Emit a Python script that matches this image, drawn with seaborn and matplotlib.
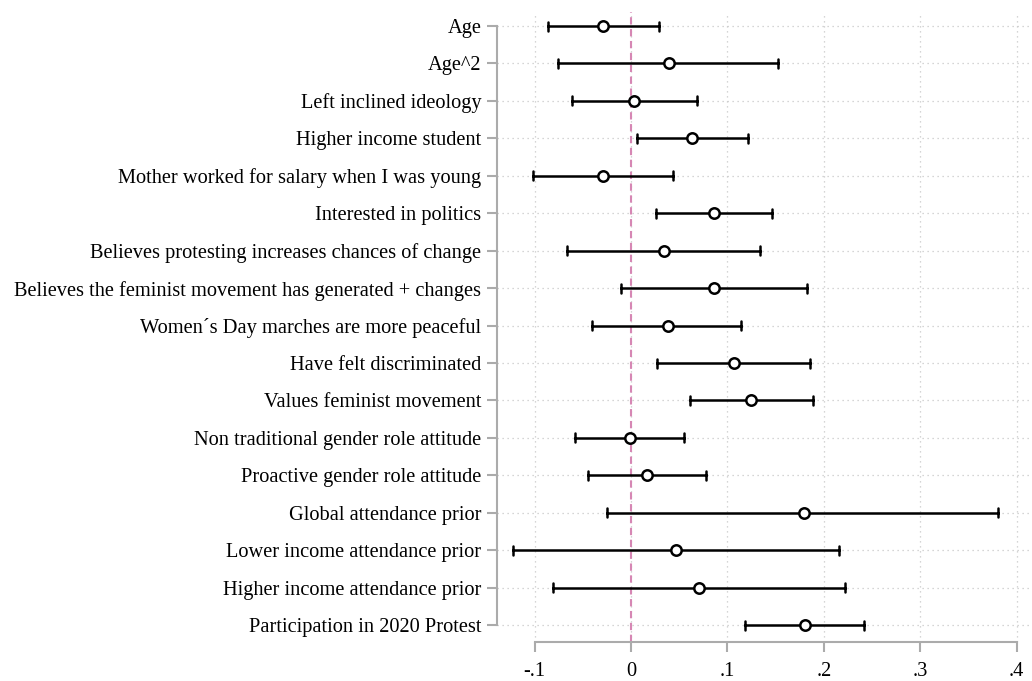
import numpy as np
import pandas as pd
import matplotlib
matplotlib.use("Agg")
import matplotlib.pyplot as plt
from matplotlib.ticker import FuncFormatter
import seaborn as sns

terms = [
    "Age",
    "Age^2",
    "Left inclined ideology",
    "Higher income student",
    "Mother worked for salary when I was young",
    "Interested in politics",
    "Believes protesting increases chances of change",
    "Believes the feminist movement has generated + changes",
    "Women\u00b4s Day marches are more peaceful",
    "Have felt discriminated",
    "Values feminist movement",
    "Non traditional gender role attitude",
    "Proactive gender role attitude",
    "Global attendance prior",
    "Lower income attendance prior",
    "Higher income attendance prior",
    "Participation in 2020 Protest",
]
coef = [-0.029, 0.039, 0.003, 0.063, -0.029, 0.086, 0.034, 0.086, 0.038,
        0.107, 0.125, -0.001, 0.017, 0.179, 0.047, 0.071, 0.180]
ci_low = [-0.086, -0.076, -0.061, 0.006, -0.102, 0.026, -0.066, -0.010, -0.040,
          0.027, 0.061, -0.058, -0.045, -0.025, -0.122, -0.081, 0.118]
ci_high = [0.029, 0.153, 0.068, 0.121, 0.044, 0.146, 0.134, 0.183, 0.114,
           0.186, 0.189, 0.055, 0.078, 0.381, 0.216, 0.222, 0.242]
xticks = [-0.1, 0, 0.1, 0.2, 0.3, 0.4]

# long form: lower bound, estimate, upper bound for each term
df = pd.DataFrame({
    "term": np.repeat(terms, 3),
    "value": np.column_stack([ci_low, coef, ci_high]).ravel(),
})

sns.set_style("white")
plt.rcParams["font.family"] = ["Liberation Serif", "DejaVu Serif"]

fig = plt.figure(figsize=(10.32, 6.81), dpi=100)
ax = fig.add_axes([0.4816, 0.0573, 0.5184, 0.925])

grid_kw = dict(color="#c8c8c8", lw=0.9, ls=(0, (1, 3)), zorder=0)
for i in range(len(terms)):
    ax.axhline(i, **grid_kw)
for t in xticks:
    ax.axvline(t, **grid_kw)
ax.axvline(0, color="#d687b4", lw=1.5, ls=(0, (3.5, 2.2)), zorder=1)

sns.pointplot(
    data=df, x="value", y="term", order=terms,
    estimator="median", errorbar=lambda v: (v.min(), v.max()),
    linestyle="none", marker="o", markersize=7.5, markeredgewidth=1.8,
    color="black", capsize=0.24, err_kws={"linewidth": 1.8},
    ax=ax, zorder=3,
)
for ln in ax.lines:
    if ln.get_marker() == "o":
        ln.set_markerfacecolor("white")
        ln.set_zorder(4)

ax.set_xlim(-0.139, 0.416)
ax.set_ylim(16.45, -0.374)
ax.set_xticks(xticks)
ax.xaxis.set_major_formatter(FuncFormatter(
    lambda v, p: "0" if abs(v) < 1e-9 else f"{v:.1f}".replace("0.", ".")))
ax.set_xlabel("")
ax.set_ylabel("")

for side in ["top", "right"]:
    ax.spines[side].set_visible(False)
for side in ["left", "bottom"]:
    ax.spines[side].set_color("#ababab")
    ax.spines[side].set_linewidth(1.5)
ax.spines["left"].set_bounds(0, len(terms) - 1)
ax.spines["bottom"].set_bounds(xticks[0], xticks[-1])
ax.tick_params(axis="both", colors="#ababab", length=7.2, width=1.5,
               labelcolor="black", labelsize=14.7, pad=4)
ax.tick_params(axis="y", left=True)
ax.tick_params(axis="x", bottom=True, pad=7)

fig.savefig("out.png", dpi=100)
